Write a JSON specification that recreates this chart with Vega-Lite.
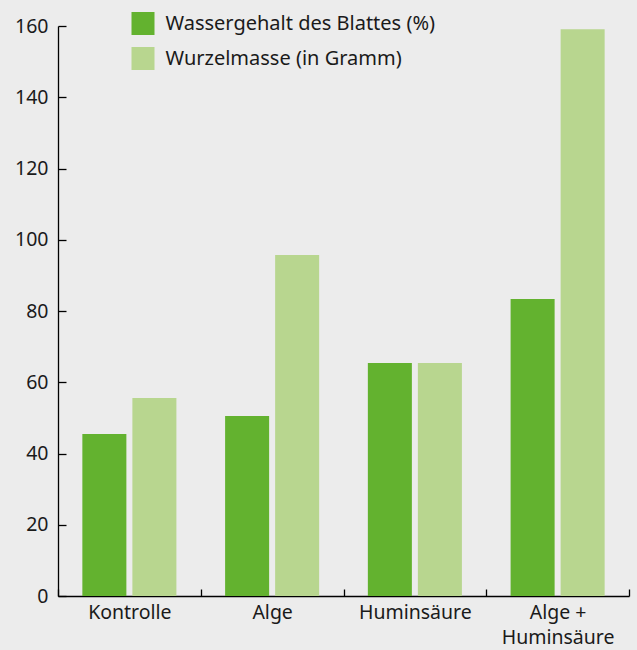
{
  "$schema": "https://vega.github.io/schema/vega-lite/v6.json",
  "width": 571,
  "height": 570,
  "autosize": {"type": "none"},
  "padding": {"left": 58, "top": 26, "right": 8, "bottom": 54},
  "background": "#ececec",
  "config": {
    "view": {"stroke": null},
    "font": "Noto Sans",
    "axis": {"domainColor": "#000000", "tickColor": "#000000", "labelColor": "#1a1a1a", "labelFontSize": 19.5, "grid": false, "title": null, "domainWidth": 1.3, "tickWidth": 1.3}
  },
  "data": {
    "values": [
      {"cat": "Kontrolle", "series": "Wassergehalt des Blattes (%)", "v": 45.5},
      {"cat": "Kontrolle", "series": "Wurzelmasse (in Gramm)", "v": 55.6},
      {"cat": "Alge", "series": "Wassergehalt des Blattes (%)", "v": 50.5},
      {"cat": "Alge", "series": "Wurzelmasse (in Gramm)", "v": 95.7},
      {"cat": "Huminsäure", "series": "Wassergehalt des Blattes (%)", "v": 65.4},
      {"cat": "Huminsäure", "series": "Wurzelmasse (in Gramm)", "v": 65.4},
      {"cat": "Alge + Huminsäure", "series": "Wassergehalt des Blattes (%)", "v": 83.4},
      {"cat": "Alge + Huminsäure", "series": "Wurzelmasse (in Gramm)", "v": 159.1}
    ]
  },
  "mark": {"type": "bar"},
  "encoding": {
    "x": {
      "field": "cat", "type": "nominal", "sort": null,
      "scale": {"paddingInner": 0, "paddingOuter": 0},
      "axis": {"labelAngle": 0, "tickBand": "extent", "tickSize": -7, "labelPadding": 14, "labelLineHeight": 25,
               "labelExpr": "datum.value == 'Alge + Huminsäure' ? ['Alge +', 'Huminsäure'] : datum.label"}
    },
    "xOffset": {
      "field": "series", "type": "nominal",
      "scale": {"paddingInner": 0.12, "paddingOuter": 0.487}
    },
    "y": {
      "field": "v", "type": "quantitative",
      "scale": {"domain": [0, 160], "nice": false},
      "axis": {"values": [0, 20, 40, 60, 80, 100, 120, 140, 160], "tickSize": -8, "labelPadding": 18}
    },
    "color": {
      "field": "series", "type": "nominal",
      "scale": {"range": ["#63b22f", "#b8d68f"]},
      "legend": {
        "title": null, "orient": "none", "legendX": 73.5, "legendY": -14,
        "symbolType": "square", "symbolSize": 529, "symbolStrokeWidth": 0, "symbolOpacity": 1,
        "labelFontSize": 20, "labelColor": "#1a1a1a", "labelOffset": 11, "rowPadding": 12, "labelLimit": 500
      }
    }
  }
}
